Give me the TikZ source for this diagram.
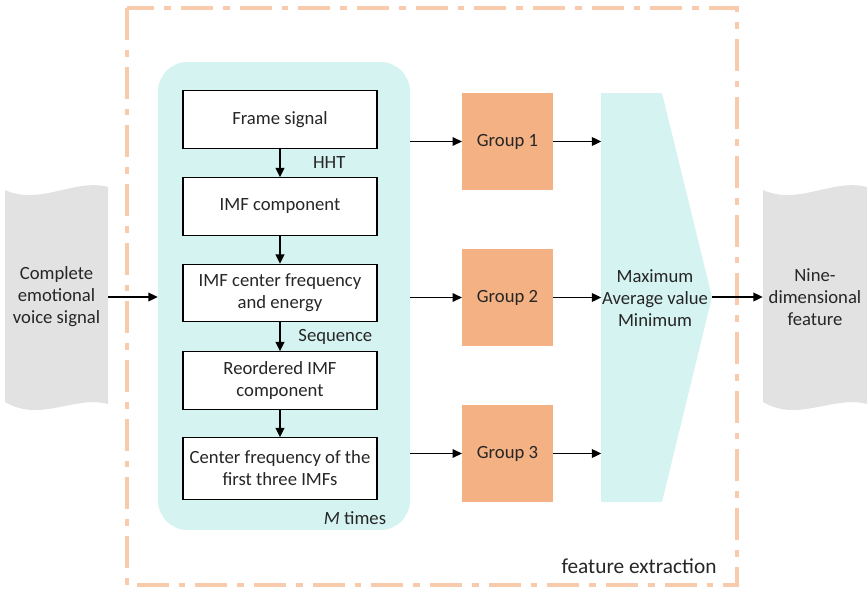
\documentclass[tikz,border=0pt]{standalone}
\usepackage{fontspec}
\setmainfont{Carlito}
\usetikzlibrary{positioning, calc, arrows.meta}

\definecolor{frameorange}{HTML}{F8CBAD}
\definecolor{groupfill}{HTML}{F4B183}
\definecolor{tealfill}{HTML}{D5F3F0}
\definecolor{grayfill}{HTML}{E2E2E2}
\definecolor{txt}{HTML}{262626}

\tikzset{
  stepbox/.style={draw, line width=0.8pt, fill=white, minimum width=145.5pt, minimum height=43pt, align=center, inner sep=2pt},
  groupbox/.style={fill=groupfill, minimum width=68pt, minimum height=73pt},
  flow/.style={-{Triangle[length=7pt,width=6.5pt]}, line width=1pt},
}

\begin{document}
\begin{tikzpicture}[x=0.75pt, y=-0.75pt, font=\fontsize{14}{16.5}\selectfont, text=txt]
			\useasboundingbox (0,0) rectangle (867,589);
			% outer frame
			\draw[frameorange, line width=2.6pt, dash pattern=on 24pt off 7.5pt on 5pt off 7.5pt] (127,8) rectangle (737,585);
			\node[font=\fontsize{16}{18}\selectfont] at (639,566) {feature extraction};
			% input and output
			\fill[grayfill] (5,190) .. controls (40,206) and (75,178) .. (108,187) -- (108,404) .. controls (75,395) and (40,423) .. (5,402) -- cycle;
			\fill[grayfill] (763,190) .. controls (798,206) and (833,178) .. (867,187) -- (867,404) .. controls (833,395) and (798,423) .. (763,402) -- cycle;
			\node[align=center, minimum width=77pt] (voice) at (56.5,297) {Complete\\emotional\\voice signal};
			\node[align=center, minimum width=78pt] (nine) at (815,297) {Nine-\\dimensional\\feature};
			% loop over frames
			\node[fill=tealfill, rounded corners=22pt, minimum width=189pt, minimum height=351pt] (loop) at (284,296) {};
			\node[stepbox] (frame) at (280,119.5) {Frame signal};
			\node[stepbox] (imf) at (280,206.5) {IMF component};
			\node[stepbox] (energy) at (280,293) {IMF center frequency\\and energy};
			\node[stepbox] (reorder) at (280,380.5) {Reordered IMF\\component};
			\node[stepbox, minimum height=46pt] (first) at (280,468.5) {Center frequency of the\\first three IMFs};
			\draw[flow] (frame) -- node[anchor=west, xshift=21pt] {HHT} (imf);
			\draw[flow] (imf) -- (energy);
			\draw[flow] (energy) -- node[anchor=west, xshift=10pt] {Sequence} (reorder);
			\draw[flow] (reorder) -- (first);
			\node at (355,518) {\textit{M} times};
			% groups
			\node[groupbox] (g1) at (507.5,141.5) {Group 1};
			\node[groupbox] (g2) at (507.5,297.5) {Group 2};
			\node[groupbox] (g3) at (507.5,453.5) {Group 3};
			% statistics
			\fill[tealfill] (601,93) -- (662,93) -- (712,297) -- (662,502) -- (601,502) -- cycle;
			\node[minimum width=45pt, minimum height=307pt, inner sep=0pt] (stats) at (631.5,297.5) {};
			\node[align=center] (statstext) at (655,298) {Maximum\\Average value\\Minimum};
			\coordinate (tip) at (712,297);
			\foreach \g in {g1,g2,g3}{
				\draw[flow] (loop.east |- \g) -- (\g);
				\draw[flow] (\g) -- (stats.west |- \g);
			}
			\draw[flow] (voice.east) -- (loop.west |- voice);
			\draw[flow] (tip) -- (nine.west);
		\end{tikzpicture}
\end{document}
